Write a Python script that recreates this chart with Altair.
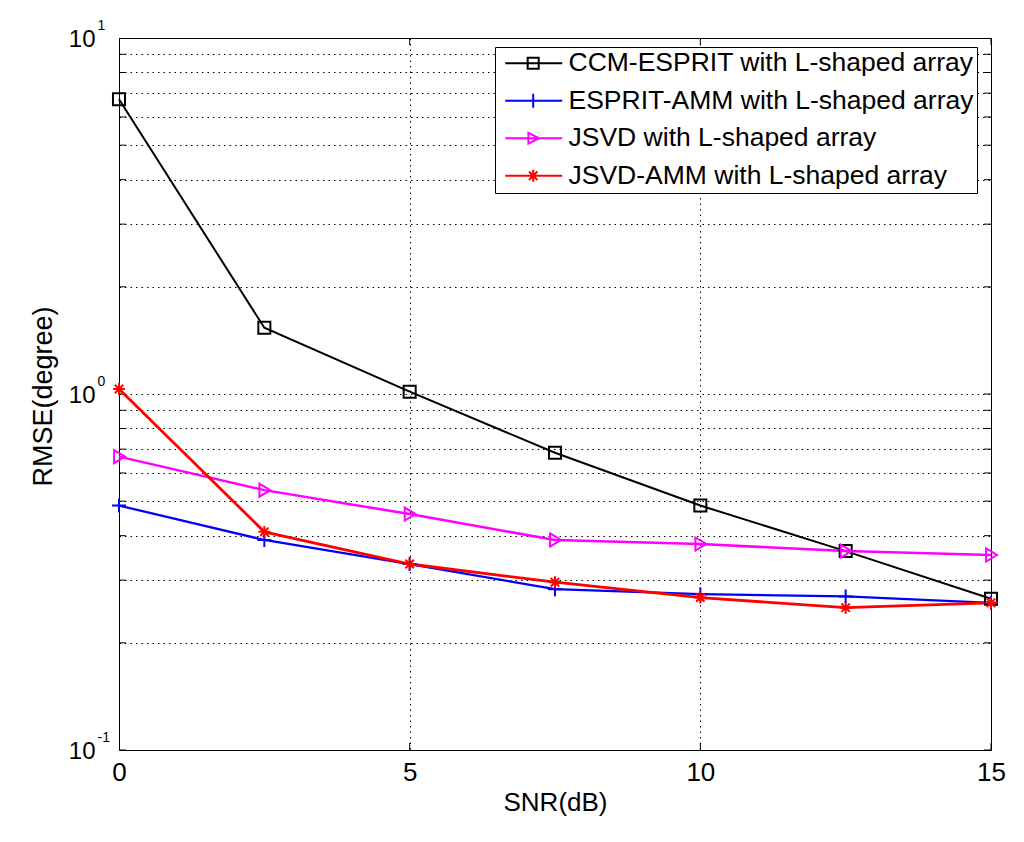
import altair as alt
import pandas as pd

snr = [0, 2.5, 5, 7.5, 10, 12.5, 15]
series_names = [
    "CCM-ESPRIT with L-shaped array",
    "ESPRIT-AMM with L-shaped array",
    "JSVD with L-shaped array",
    "JSVD-AMM with L-shaped array",
]
ccm_esprit = [6.73, 1.535, 1.015, 0.684, 0.486, 0.362, 0.266]
esprit_amm = [0.486, 0.389, 0.333, 0.283, 0.274, 0.270, 0.259]
jsvd = [0.667, 0.537, 0.460, 0.389, 0.379, 0.362, 0.353]
jsvd_amm = [1.033, 0.410, 0.333, 0.296, 0.268, 0.251, 0.259]
colors = ["#000000", "#0000ff", "#ff00ff", "#ff0000"]
line_widths = [2.0, 2.8, 2.8, 2.8]

x_ticks = [0, 5, 10, 15]
y_grid = [0.1, 0.2, 0.3, 0.4, 0.5, 0.6, 0.7, 0.8, 0.9,
          1, 2, 3, 4, 5, 6, 7, 8, 9, 10]
y_decades = [0.1, 1, 10]

FONT = "Liberation Sans"

rows = []
for name, vals in zip(series_names, [ccm_esprit, esprit_amm, jsvd, jsvd_amm]):
    for x, v in zip(snr, vals):
        rows.append({"snr": x, "rmse": v, "series": name})
df = pd.DataFrame(rows)
ytick_df = pd.DataFrame({"v": y_grid})
xtick_df = pd.DataFrame({"v": x_ticks})

# marker shapes (unit paths)
marker_paths = [
    "M-0.86,-0.86H0.86V0.86H-0.86Z",
    "M-1,0H1M0,-1V1",
    "M-0.7,-0.93L0.86,0L-0.7,0.93Z",
    "M-0.85,0H0.85M0,-0.85V0.85M-0.6,-0.6L0.6,0.6M-0.6,0.6L0.6,-0.6",
]
# legend symbols: line with marker in the middle
legend_paths = [
    "M-0.5,0H4.25M1.37,-0.46H2.29V0.46H1.37Z",
    "M-0.5,0H4.25M1.83,-0.58V0.58",
    "M-0.5,0H4.25M1.43,-0.45L2.33,0L1.43,0.45Z",
    "M-0.5,0H4.25M1.83,-0.5V0.5M1.48,-0.35L2.18,0.35M1.48,0.35L2.18,-0.35",
]

xs = alt.Scale(domain=[0, 15], nice=False, zero=False)
ys = alt.Scale(type="log", domain=[0.1, 10], nice=False)
cs = alt.Scale(domain=series_names, range=colors)

dots = [1.5, 4]

x_axis = alt.Axis(
    values=x_ticks, grid=True, gridDash=dots, gridColor="black", gridOpacity=1,
    gridWidth=1, ticks=False, tickSize=0, domain=False, labelFlush=False,
    labelBaseline="alphabetic", labelPadding=30, labelFontSize=26, labelFont=FONT,
    labelColor="black", labelOverlap=False,
    title="SNR(dB)", titleFontSize=26, titleFont=FONT, titleFontWeight="normal",
    titleColor="black", titleBaseline="alphabetic", titleY=60,
)
y_axis = alt.Axis(
    orient="left",
    values=y_grid, grid=True, gridDash=dots, gridColor="black", gridOpacity=1,
    gridWidth=1, ticks=False, tickSize=0, domain=False,
    labelExpr="indexof([0.1, 1, 10], datum.value) >= 0 ? '10' : ''",
    labelAlign="right", labelBaseline="alphabetic", labelOffset=8, labelPadding=24,
    labelFontSize=24, labelFont=FONT, labelColor="black", labelOverlap=False,
    labelFlush=False,
    title="RMSE(degree)", titleFontSize=27, titleFont=FONT, titleFontWeight="normal",
    titleColor="black", titleAngle=270, titleBaseline="bottom", titleAlign="center",
    titleX=-62, titleY=358,
)
exp_axis = alt.Axis(
    orient="left", values=y_decades, grid=False, ticks=False, tickSize=0, domain=False,
    labelExpr="datum.value == 10 ? '1' : (datum.value == 1 ? '0' : '-1')",
    labelAlign="left", labelBaseline="alphabetic", labelOffset=-9, labelPadding=22,
    labelFontSize=14, labelFont=FONT, labelColor="black", labelOverlap=False,
    labelFlush=False, title=None,
)

legend = alt.Legend(
    title=None, orient="none", legendX=376, legendY=9, padding=3,
    strokeColor="black", fillColor="white", cornerRadius=0,
    labelFont=FONT, labelFontSize=26.5, labelColor="black", labelLimit=0,
    labelOffset=44, rowPadding=10.5, symbolSize=576, symbolStrokeWidth=2,
)

lines = alt.Chart(df).mark_line().encode(
    x=alt.X("snr:Q", scale=xs, axis=x_axis),
    y=alt.Y("rmse:Q", scale=ys, axis=y_axis),
    color=alt.Color("series:N", scale=cs, legend=None),
    strokeWidth=alt.StrokeWidth(
        "series:N", scale=alt.Scale(domain=series_names, range=line_widths), legend=None
    ),
)

points = alt.Chart(df).mark_point(filled=False, strokeWidth=2, size=196, opacity=1).encode(
    x=alt.X("snr:Q", scale=xs, axis=x_axis),
    y=alt.Y("rmse:Q", scale=ys, axis=None),
    color=alt.Color("series:N", scale=cs, legend=None),
    shape=alt.Shape("series:N", scale=alt.Scale(domain=series_names, range=marker_paths), legend=None),
)

legend_layer = alt.Chart(df).transform_filter("false").mark_point(
    filled=False, strokeWidth=2, opacity=1
).encode(
    x=alt.X("snr:Q", scale=xs, axis=x_axis),
    y=alt.Y("rmse:Q", scale=ys, axis=None),
    color=alt.Color("series:N", scale=cs, legend=legend),
    shape=alt.Shape("series:N", scale=alt.Scale(domain=series_names, range=legend_paths), legend=legend),
)

tick_kw = dict(thickness=1, size=14, color="black", opacity=1, clip=True)
left_ticks = alt.Chart(ytick_df).mark_tick(orient="horizontal", **tick_kw).encode(
    x=alt.XDatum(0, scale=xs, axis=x_axis),
    y=alt.Y("v:Q", scale=ys, axis=exp_axis),
)
right_ticks = alt.Chart(ytick_df).mark_tick(orient="horizontal", **tick_kw).encode(
    x=alt.XDatum(15, scale=xs, axis=x_axis),
    y=alt.Y("v:Q", scale=ys, axis=None),
)
bottom_ticks = alt.Chart(xtick_df).mark_tick(orient="vertical", **tick_kw).encode(
    x=alt.X("v:Q", scale=xs, axis=x_axis),
    y=alt.YDatum(0.1, scale=ys, axis=None),
)
top_ticks = alt.Chart(xtick_df).mark_tick(orient="vertical", **tick_kw).encode(
    x=alt.X("v:Q", scale=xs, axis=x_axis),
    y=alt.YDatum(10, scale=ys, axis=None),
)

chart = alt.layer(
    left_ticks, right_ticks, bottom_ticks, top_ticks, lines, points, legend_layer
).resolve_axis(y="independent").resolve_scale(
    color="independent", shape="independent"
).properties(
    width=872, height=712,
    autosize=alt.AutoSizeParams(type="none"),
    padding={"left": 111, "top": 30, "right": 25, "bottom": 84},
    background="white",
).configure_view(stroke="black", strokeWidth=1)

chart.save("out.html", embed_options={"renderer": "svg", "actions": False})
